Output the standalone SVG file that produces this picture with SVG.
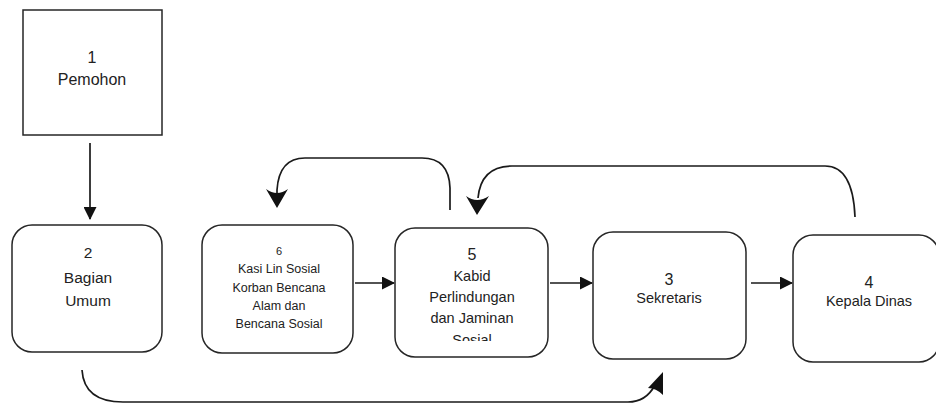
<svg xmlns="http://www.w3.org/2000/svg" width="936" height="405" viewBox="0 0 936 405">
<style>
.box{fill:#fff;stroke:#262626;stroke-width:1.5}
.ln{fill:none;stroke:#1a1a1a;stroke-width:1.7}
.ah{fill:#111;stroke:none}
text{font-family:"Liberation Sans",Arial,sans-serif;fill:#222;text-anchor:middle}
.t{font-size:15.5px}
.s{font-size:12.5px}
.m{font-size:14.5px}
</style>
<defs>
<marker id="arr" viewBox="0 0 13 13" refX="12" refY="6.5" markerWidth="13" markerHeight="13" markerUnits="userSpaceOnUse" orient="auto">
<path d="M0,0 L13,6.5 L0,13 Z" fill="#111"/>
</marker>
<clipPath id="c5"><rect x="395" y="228" width="153" height="113"/></clipPath>
</defs>
<g id="connectors">
<line class="ln" x1="90" y1="143" x2="90" y2="219" marker-end="url(#arr)"/>
<line class="ln" x1="355" y1="283" x2="394" y2="283" marker-end="url(#arr)"/>
<line class="ln" x1="550" y1="283" x2="592" y2="283" marker-end="url(#arr)"/>
<line class="ln" x1="751" y1="283" x2="792" y2="283" marker-end="url(#arr)"/>
<path class="ln" d="M450,210 L450,188 Q449,158 422,158 L305,158 Q279,158 277,190 L277,198"/>
<path class="ah" d="M277,208 L266,189 Q277,197 288,189 Z"/>
<path class="ln" d="M855,217 Q853,166 825,166 L512,166 Q481,166 478,198"/>
<path class="ah" d="M477,215 L466,196 Q477,204 489,196 Z"/>
<path class="ln" d="M82,370 Q84,402 123,402 L628,402 Q646,402 655,385"/>
<path class="ah" d="M663,372 L663,395 Q656,388 648,388 Z"/>
</g>
<g id="node1">
<rect class="box" x="23" y="10" width="139" height="125"/>
<text class="t" x="92" y="63" style="font-size:16px">1</text>
<text class="t" x="92" y="85" style="font-size:16px">Pemohon</text>
</g>
<g id="node2">
<rect class="box" x="12" y="225" width="150" height="127" rx="20"/>
<text class="t" x="88" y="258">2</text>
<text class="t" x="88" y="283">Bagian</text>
<text class="t" x="88" y="306">Umum</text>
</g>
<g id="node6">
<rect class="box" x="202" y="225" width="151" height="128" rx="20"/>
<text class="s" x="279" y="255" style="font-size:11px">6</text>
<text class="s" x="279" y="273">Kasi Lin Sosial</text>
<text class="s" x="279" y="292">Korban Bencana</text>
<text class="s" x="279" y="310">Alam dan</text>
<text class="s" x="279" y="328">Bencana Sosial</text>
</g>
<g id="node5">
<rect class="box" x="395" y="228" width="153" height="129" rx="20"/>
<g clip-path="url(#c5)">
<text class="m" x="472" y="260" style="font-size:16px">5</text>
<text class="m" x="472" y="281">Kabid</text>
<text class="m" x="472" y="302">Perlindungan</text>
<text class="m" x="472" y="323">dan Jaminan</text>
<text class="m" x="472" y="345">Sosial</text>
</g>
</g>
<g id="node3">
<rect class="box" x="593" y="232" width="153" height="127" rx="20"/>
<text class="m" x="669" y="285" style="font-size:16px">3</text>
<text class="m" x="669" y="303">Sekretaris</text>
</g>
<g id="node4">
<rect class="box" x="793" y="235" width="146" height="127" rx="20"/>
<text class="m" x="869" y="288" style="font-size:16px">4</text>
<text class="m" x="869" y="306">Kepala Dinas</text>
</g>
</svg>
